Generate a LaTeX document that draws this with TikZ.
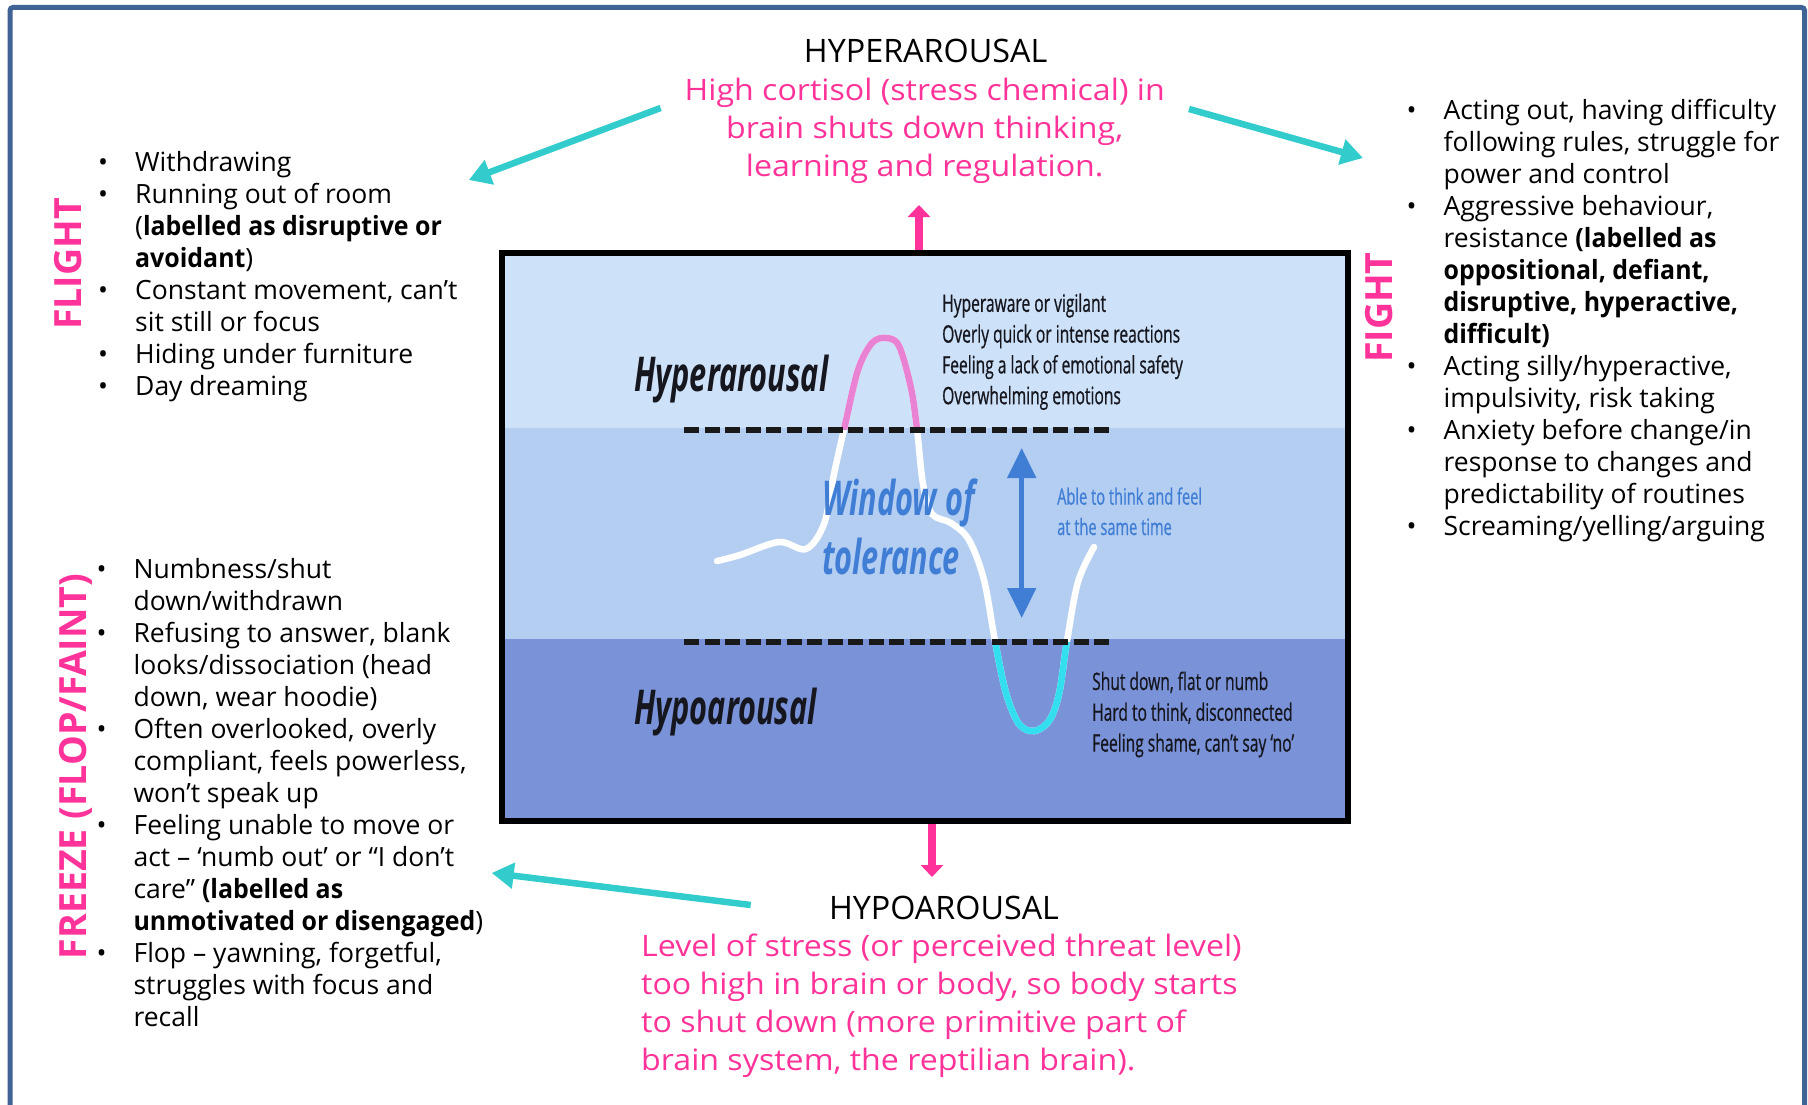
\documentclass[tikz,border=0pt]{standalone}
\usepackage{fontspec}
\setmainfont{Open Sans}
\newfontfamily\labelfont[FakeStretch=0.64]{Open Sans}
\newfontfamily\notefont[FakeStretch=0.65, FakeBold=0.6]{Open Sans}
\newfontfamily\widefont[FakeStretch=1.09]{Open Sans}
\newfontfamily\strongfont[FakeStretch=0.94]{Open Sans}
\usetikzlibrary{arrows.meta}

\definecolor{framecol}{RGB}{63,99,148}
\definecolor{hotpink}{RGB}{255,51,153}
\definecolor{teal}{RGB}{51,204,204}
\definecolor{bandtop}{RGB}{205,225,248}
\definecolor{bandmid}{RGB}{180,206,242}
\definecolor{bandlow}{RGB}{122,146,216}
\definecolor{wavepink}{RGB}{234,130,212}
\definecolor{wavecyan}{RGB}{51,222,238}
\definecolor{calmblue}{RGB}{64,126,214}
\definecolor{inktext}{RGB}{22,22,30}

\newlength\bulw
\setlength\bulw{37pt}
\newcommand\bu{\makebox[\bulw][l]{•}}
\newcommand\cont{\hspace*{\bulw}}
\newcommand\emphbold[1]{{\strongfont\bfseries #1}}

\begin{document}
\begin{tikzpicture}[x=1pt,y=-1pt,
  listtext/.style={inner sep=0pt, anchor=base west, font=\fontsize{26.5}{32}\selectfont},
  sidelabel/.style={inner sep=0pt, anchor=base, rotate=90, text=hotpink, font=\fontsize{37.5}{40}\selectfont\bfseries},
  headline/.style={inner sep=0pt, anchor=base, font=\fontsize{32.3}{36}\selectfont},
  pinkbody/.style={inner sep=0pt, text=hotpink, font=\fontsize{29.5}{38}\selectfont\widefont},
  zonelabel/.style={inner sep=0pt, anchor=base west, text=inktext, font=\fontsize{48}{52}\selectfont\labelfont\bfseries\itshape},
  zonelist/.style={inner sep=0pt, anchor=base west, text=inktext, font=\fontsize{24}{30.8}\selectfont\notefont},
  tealarrow/.style={teal, line width=6.5pt, -{Triangle[length=22pt,width=25pt]}},
  pinkarrow/.style={hotpink, line width=8pt, -{Triangle[length=12pt,width=22pt]}},
  bandline/.style={black!90, line width=5.5pt, dash pattern=on 15pt off 5.5pt},
  wave/.style={line width=6.5pt, line cap=round}
]
\useasboundingbox (0,0) rectangle (1808,1105);
\fill[white] (0,0) rectangle (1808,1105);

% outer frame, open at the bottom
\draw[framecol, line width=5pt, rounded corners=3pt] (10,1110) -- (10,7.5) -- (1804.5,7.5) -- (1804.5,1110);

% ---------- arousal zones ----------
\fill[bandtop] (502,253) rectangle (1348,428);
\fill[bandmid] (502,428) rectangle (1348,639);
\fill[bandlow] (502,639) rectangle (1348,821);

% the wave, recoloured above and below the window
\foreach \col/\ya/\yb in {white/250/822, wavepink/250/429, wavecyan/642/822} {
  \begin{scope}
    \clip (500,\ya) rectangle (1350,\yb);
    \draw[wave, \col] plot[smooth, tension=0.55] coordinates {
      (717,561) (740,555) (779,542) (806,549) (824,524) (834,474) (845,425)
      (858,370) (872,343) (886,338) (899,346) (911,388) (917,429) (923,484)
      (932,514) (951,523) (969,540) (984,580) (995,641) (1006,693) (1019,724)
      (1034,731) (1049,721) (1059,694) (1067,641) (1078,582) (1094,547)};
  \end{scope}
}

% window limits
\draw[bandline] (684,430) -- (1112,430);
\draw[bandline] (684,642) -- (1112,642);

% zone labels
\node[zonelabel] (hyperzone) at (634,391) {Hyperarousal};
\node[zonelabel] (hypozone) at (634,724) {Hypoarousal};

\node[zonelist] (hyperlist) at (942,311.8) {\begin{tabular}[t]{@{}l@{}}
Hyperaware or vigilant\\
Overly quick or intense reactions\\
Feeling a lack of emotional safety\\
Overwhelming emotions
\end{tabular}};

\node[zonelist] (hypolist) at (1092,690) {\begin{tabular}[t]{@{}l@{}}
Shut down, flat or numb\\
Hard to think, disconnected\\
Feeling shame, can’t say ‘no’
\end{tabular}};

\node[inner sep=0pt, anchor=base west, text=calmblue,
      font=\fontsize{48}{59.5}\selectfont\labelfont\bfseries\itshape] (window) at (822,515)
  {\begin{tabular}[t]{@{}l@{}}Window of\\tolerance\end{tabular}};

\node[inner sep=0pt, anchor=base west, text=calmblue,
      font=\fontsize{22.5}{30.4}\selectfont\notefont] (able) at (1057,504.6)
  {\begin{tabular}[t]{@{}l@{}}Able to think and feel\\at the same time\end{tabular}};

\coordinate (wintop) at (1021.7,448);
\coordinate (winbot) at (1021.7,618);
\draw[calmblue, line width=5pt, {Triangle[length=30pt,width=28pt]}-{Triangle[length=30pt,width=28pt]}] (wintop) -- (winbot);

% frame of the chart
\node[draw=black, line width=6pt, minimum width=846pt, minimum height=568pt, inner sep=0pt] (box) at (925,537) {};

% ---------- hyperarousal heading ----------
\node[headline] (hyperT) at (925.6,62.7) {HYPERAROUSAL};
\node[pinkbody, anchor=base] (hyperD) at (924.7,100.7) {\begin{tabular}[t]{@{}c@{}}
High cortisol (stress chemical) in\\
brain shuts down thinking,\\
learning and regulation.
\end{tabular}};

% ---------- hypoarousal heading ----------
\node[headline] (hypoT) at (944,919.3) {HYPOAROUSAL};
\node[pinkbody, anchor=base west] (hypoD) at (641,956.7) {\begin{tabular}[t]{@{}l@{}}
Level of stress (or perceived threat level)\\
too high in brain or body, so body starts\\
to shut down (more primitive part of\\
brain system, the reptilian brain).
\end{tabular}};

% ---------- response lists ----------
\node[sidelabel] (flightL) at (81.7,264) {FLIGHT};
\node[listtext] (flight) at (98,171.7) {\begin{tabular}[t]{@{}l@{}}
\bu Withdrawing\\
\bu Running out of room\\
\cont(\emphbold{labelled as disruptive or}\\
\cont\emphbold{avoidant})\\
\bu Constant movement, can’t\\
\cont sit still or focus\\
\bu Hiding under furniture\\
\bu Day dreaming
\end{tabular}};

\node[sidelabel] (fightL) at (1392,307.6) {FIGHT};
\node[listtext] (fight) at (1406.4,119.3) {\begin{tabular}[t]{@{}l@{}}
\bu Acting out, having difficulty\\
\cont following rules, struggle for\\
\cont power and control\\
\bu Aggressive behaviour,\\
\cont resistance \emphbold{(labelled as}\\
\cont\emphbold{oppositional, defiant,}\\
\cont\emphbold{disruptive, hyperactive,}\\
\cont\emphbold{difficult)}\\
\bu Acting silly/hyperactive,\\
\cont impulsivity, risk taking\\
\bu Anxiety before change/in\\
\cont response to changes and\\
\cont predictability of routines\\
\bu Screaming/yelling/arguing
\end{tabular}};

\node[sidelabel] (freezeL) at (86.7,766.5) {FREEZE (FLOP/FAINT)};
\node[listtext] (freeze) at (96.4,578.3) {\begin{tabular}[t]{@{}l@{}}
\bu Numbness/shut\\
\cont down/withdrawn\\
\bu Refusing to answer, blank\\
\cont looks/dissociation (head\\
\cont down, wear hoodie)\\
\bu Often overlooked, overly\\
\cont compliant, feels powerless,\\
\cont won’t speak up\\
\bu Feeling unable to move or\\
\cont act – ‘numb out’ or “I don’t\\
\cont care” \emphbold{(labelled as}\\
\cont\emphbold{unmotivated or disengaged})\\
\bu Flop – yawning, forgetful,\\
\cont struggles with focus and\\
\cont recall
\end{tabular}};

% ---------- connectors ----------
\coordinate (upTip) at (919,205);
\coordinate (downTip) at (932,877);
\draw[pinkarrow] (box.north -| upTip) -- (upTip);
\draw[pinkarrow] (box.south -| downTip) -- (downTip);

\coordinate (tlStart) at (660.6,108);
\coordinate (tlTip) at (468.8,180);
\coordinate (trStart) at (1189,109);
\coordinate (trTip) at (1363,158);
\coordinate (blStart) at (750.7,905);
\coordinate (blTip) at (491.7,873);
\draw[tealarrow] (tlStart) -- (tlTip);
\draw[tealarrow] (trStart) -- (trTip);
\draw[tealarrow] (blStart) -- (blTip);

\end{tikzpicture}
\end{document}
